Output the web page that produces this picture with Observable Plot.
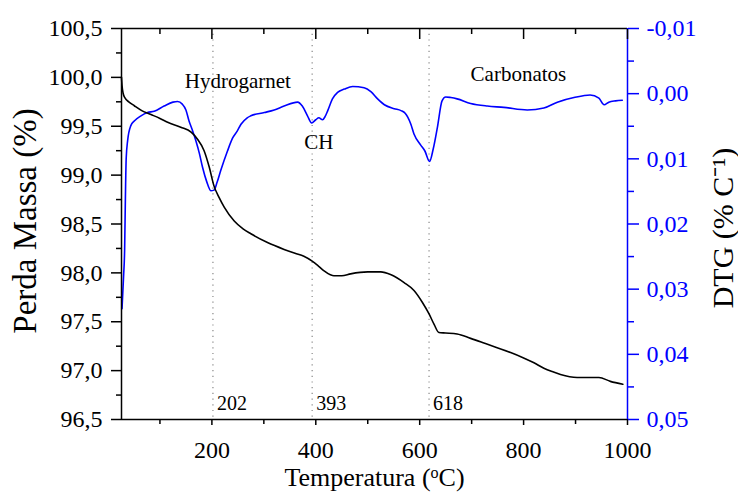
<!DOCTYPE html>
<html>
<head>
<meta charset="utf-8">
<script src="https://cdn.jsdelivr.net/npm/d3@7"></script>
<script src="https://cdn.jsdelivr.net/npm/@observablehq/plot@0.6"></script>
<style>
  html, body { margin: 0; padding: 0; background: white; }
  #chart svg { display: block; }
  #chart svg, #chart svg text { font-family: 'Liberation Serif', 'Times New Roman', serif !important; }
</style>
</head>
<body>
<div id="chart"></div>
<script>
// ---- Data ----
const xDomain = [26, 1000];
const massDomain = [96.5, 100.5];
const dtgDomain = [-0.01, 0.05]; // top to bottom on the right axis

const xMajorTicks = [200, 400, 600, 800, 1000];
const xMinorTicks = [100, 300, 500, 700, 900];
const massTicks = [96.5, 97.0, 97.5, 98.0, 98.5, 99.0, 99.5, 100.0, 100.5];
const massMinorTicks = [96.75, 97.25, 97.75, 98.25, 98.75, 99.25, 99.75, 100.25];
const dtgTicks = [-0.01, 0.00, 0.01, 0.02, 0.03, 0.04, 0.05];
const dtgMinorTicks = [-0.005, 0.005, 0.015, 0.025, 0.035, 0.045];

const peakTemps = [202, 393, 618];

// mass loss curve (temperature °C, mass %)
const massT = [26, 27, 29, 32.7, 40, 50.6, 65, 82.7, 100, 114.8, 140, 160, 172, 185, 195, 204, 214, 224, 243, 260, 275, 307, 339, 360, 377, 393, 405, 416, 428, 435, 450, 467, 500, 525, 545, 570, 589, 605, 618, 628, 637, 650, 672, 698, 725, 749, 775, 800, 820, 839, 855, 871, 903, 945, 967, 991];
const massV = [100.0, 99.92, 99.84, 99.79, 99.75, 99.71, 99.66, 99.62, 99.58, 99.54, 99.49, 99.44, 99.37, 99.25, 99.08, 98.89, 98.77, 98.67, 98.53, 98.45, 98.40, 98.31, 98.24, 98.20, 98.17, 98.12, 98.07, 98.02, 97.98, 97.97, 97.97, 97.99, 98.01, 98.01, 97.98, 97.90, 97.82, 97.70, 97.58, 97.47, 97.39, 97.385, 97.375, 97.33, 97.28, 97.235, 97.185, 97.13, 97.08, 97.025, 96.99, 96.96, 96.93, 96.93, 96.89, 96.86];

// DTG curve (temperature °C, % per °C)
const dtgT = [27, 30, 32, 33.5, 35, 37.8, 44, 50.6, 63.5, 76, 89, 108, 125, 134, 143, 150, 156, 162, 169, 176, 182, 190, 198, 204, 210, 217, 230, 240, 249, 256, 268, 275, 301, 320, 339, 365, 374, 384, 392, 400, 406, 413, 418, 423, 432, 442, 455, 471, 493, 506, 519, 532, 551, 564, 572, 577, 583, 589, 602, 610, 619, 626, 634, 643, 650, 660, 672, 698, 730, 762, 807, 839, 865, 897, 928, 945, 955, 964, 977, 990];
const dtgV = [0.033, 0.028, 0.024, 0.016, 0.010, 0.0072, 0.0049, 0.0042, 0.0034, 0.0029, 0.0027, 0.0019, 0.0013, 0.0012, 0.0016, 0.0025, 0.0042, 0.0055, 0.0072, 0.0092, 0.0113, 0.0135, 0.0149, 0.0148, 0.0136, 0.0118, 0.0088, 0.0068, 0.0057, 0.0047, 0.0037, 0.0034, 0.0029, 0.0025, 0.0019, 0.0013, 0.0019, 0.0034, 0.0045, 0.0040, 0.0037, 0.0040, 0.0035, 0.0026, 0.0008, -0.0002, -0.0007, -0.0011, -0.0009, -0.0003, 0.0008, 0.0017, 0.0023, 0.0026, 0.0030, 0.0036, 0.0047, 0.0062, 0.0079, 0.0088, 0.0104, 0.0085, 0.0052, 0.0011, 0.0005, 0.0006, 0.0008, 0.0015, 0.0019, 0.0021, 0.0025, 0.0022, 0.0013, 0.0006, 0.0002, 0.0007, 0.0017, 0.0013, 0.0011, 0.0010];

const annotLabels = ["Hydrogarnet", "CH", "Carbonatos"];
const annotT = [250, 406, 790];
const annotMass = [99.965, 99.34, 100.03];

// ---- Build tables ----
const massData = massT.map((t, i) => ({T: t, m: massV[i]}));
const toMass = v => massDomain[1] - (v - dtgDomain[0]) / (dtgDomain[1] - dtgDomain[0]) * (massDomain[1] - massDomain[0]);
const fromMass = m => dtgDomain[0] + (massDomain[1] - m) / (massDomain[1] - massDomain[0]) * (dtgDomain[1] - dtgDomain[0]);
const dtgData = dtgT.map((t, i) => ({T: t, v: dtgV[i]}));
const annots = annotLabels.map((l, i) => ({label: l, T: annotT[i], m: annotMass[i]}));
const comma = (d, n) => d.toFixed(n).replace(".", ",");
const BLUE = "#0000ff";
const FONT = "'Liberation Serif', 'Times New Roman', serif";
const empty = () => "";
const ax = {label: null, strokeWidth: 1.5, fontFamily: FONT, fontSize: 24};

const chart = Plot.plot({
  width: 738,
  height: 497,
  marginLeft: 121,
  marginRight: 111,
  marginTop: 28,
  marginBottom: 78,
  x: {domain: xDomain, axis: null},
  y: {domain: massDomain, axis: null},
  style: {fontFamily: FONT, fontSize: "24px", background: "white", overflow: "visible", color: "black"},
  marks: [
    Plot.ruleX(peakTemps, {x: d => d, stroke: "#888", strokeWidth: 1.2, strokeDasharray: "1.2,4.5"}),
    Plot.line(dtgData, {x: "T", y: d => toMass(d.v), stroke: BLUE, strokeWidth: 1.6, curve: "monotone-x"}),
    Plot.line(massData, {x: "T", y: "m", stroke: "black", strokeWidth: 1.6, curve: "monotone-x"}),
    // frame
    Plot.ruleY([massDomain[1]], {stroke: "black", strokeWidth: 1.5}),
    Plot.ruleY([massDomain[0]], {stroke: "black", strokeWidth: 1.5}),
    Plot.ruleX([xDomain[0]], {stroke: "black", strokeWidth: 1.5}),
    Plot.ruleX([xDomain[1]], {stroke: BLUE, strokeWidth: 1.5}),
    // bottom axis
    Plot.axisX({...ax, anchor: "bottom", ticks: xMajorTicks, tickSize: 6, tickPadding: 15, tickFormat: d => String(d)}),
    Plot.axisX({...ax, anchor: "bottom", ticks: xMinorTicks, tickSize: 5, tickFormat: empty}),
    // top axis (inward ticks)
    Plot.axisX({...ax, anchor: "top", ticks: xMajorTicks, tickSize: -10, tickFormat: empty}),
    Plot.axisX({...ax, anchor: "top", ticks: xMinorTicks, tickSize: -5, tickFormat: empty}),
    // left axis
    Plot.axisY({...ax, anchor: "left", ticks: massTicks, tickSize: 10, tickPadding: 9, tickFormat: d => comma(d, 1)}),
    Plot.axisY({...ax, anchor: "left", ticks: massMinorTicks, tickSize: 5, tickFormat: empty}),
    // right axis (DTG)
    Plot.axisY({...ax, anchor: "right", ticks: dtgTicks.map(toMass), tickSize: 11, tickPadding: 8, color: BLUE, tickFormat: m => comma(Math.round(fromMass(m) * 100) / 100 + 0, 2)}),
    Plot.axisY({...ax, anchor: "right", ticks: dtgMinorTicks.map(toMass), tickSize: 6, color: BLUE, tickFormat: empty}),
    // peak labels
    Plot.text(peakTemps, {x: d => d, y: massDomain[0], text: d => String(d), dx: 4, dy: -10, textAnchor: "start", lineAnchor: "bottom", fontSize: 20, fontFamily: FONT, fill: "black"}),
    // annotations
    Plot.text(annots, {x: "T", y: "m", text: "label", fontSize: 21, fontFamily: FONT, fill: "black"}),
    // axis titles
    Plot.text(["Perda Massa (%)"], {frameAnchor: "left", dx: -96, dy: -3, rotate: -90, textAnchor: "middle", lineAnchor: "middle", fontSize: 33, fontFamily: FONT, fill: "black"}),
    Plot.text(["DTG (% C\u207B\u00B9)"], {frameAnchor: "right", dx: 96, dy: 4, rotate: -90, textAnchor: "middle", lineAnchor: "middle", fontSize: 30, fontFamily: FONT, fill: "black"}),
    Plot.text(["Temperatura (oC)"], {frameAnchor: "bottom", dy: 58, textAnchor: "middle", lineAnchor: "middle", fontSize: 26, fontFamily: FONT, fill: "black"})
  ]
});

// superscript in the x-axis title
d3.select(chart).selectAll("text").each(function() {
  const sel = d3.select(this);
  if (this.textContent === "Temperatura (oC)") {
    sel.text(null);
    sel.append("tspan").text("Temperatura (");
    sel.append("tspan").attr("baseline-shift", "super").attr("font-size", "0.62em").text("o");
    sel.append("tspan").text("C)");
  }
});

document.getElementById("chart").appendChild(chart);
</script>
</body>
</html>
